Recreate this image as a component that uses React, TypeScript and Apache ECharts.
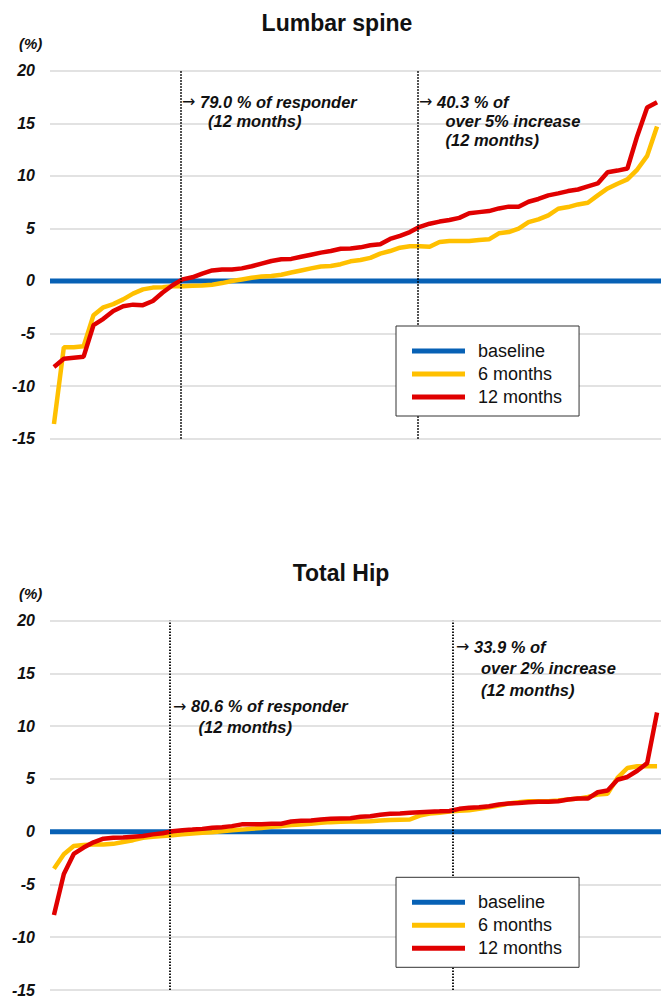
import React, { useEffect, useRef } from "react";
import * as echarts from "echarts";

// ---- data (sorted change in BMD per patient, %) ----
const lumbar6m = [
  -13.6, -6.3, -6.3, -6.2, -3.25, -2.5, -2.2, -1.75, -1.2, -0.8,
  -0.63, -0.6, -0.5, -0.5, -0.45, -0.42, -0.35, -0.2, 0.0, 0.15,
  0.3, 0.42, 0.48, 0.6, 0.8, 1.0, 1.2, 1.37, 1.43, 1.6,
  1.87, 2.0, 2.2, 2.6, 2.85, 3.17, 3.3, 3.3, 3.25, 3.7,
  3.8, 3.8, 3.8, 3.9, 3.96, 4.53, 4.65, 4.98, 5.6, 5.86,
  6.24, 6.87, 7.03, 7.28, 7.44, 8.14, 8.8, 9.25, 9.66, 10.6,
  11.9, 14.7,
];
const lumbar12m = [
  -8.17, -7.4, -7.3, -7.2, -4.2, -3.6, -2.85, -2.4, -2.25, -2.3,
  -1.9, -1.1, -0.4, 0.15, 0.35, 0.7, 1.0, 1.1, 1.1, 1.2,
  1.4, 1.65, 1.9, 2.06, 2.1, 2.3, 2.5, 2.7, 2.85, 3.07,
  3.1, 3.2, 3.4, 3.5, 4.0, 4.3, 4.65, 5.15, 5.45, 5.65,
  5.8, 6.0, 6.45, 6.55, 6.65, 6.9, 7.07, 7.07, 7.54, 7.8,
  8.14, 8.33, 8.55, 8.7, 9.0, 9.28, 10.35, 10.5, 10.7, 13.8,
  16.5, 17.0,
];
const hip6m = [
  -3.5, -2.14, -1.36, -1.25, -1.22, -1.2, -1.15, -0.98, -0.8, -0.57,
  -0.47, -0.4, -0.33, -0.25, -0.16, -0.1, -0.04, 0.05, 0.15, 0.2,
  0.28, 0.36, 0.47, 0.53, 0.63, 0.69, 0.75, 0.85, 0.91, 0.94,
  0.97, 0.97, 1.0, 1.06, 1.12, 1.14, 1.16, 1.53, 1.73, 1.79,
  1.92, 1.98, 2.04, 2.17, 2.32, 2.48, 2.67, 2.8, 2.89, 2.89,
  2.89, 2.95, 3.05, 3.14, 3.3, 3.52, 3.61, 5.1, 6.04, 6.2,
  6.2, 6.2,
];
const hip12m = [
  -7.9, -4.0, -2.1, -1.5, -1.0, -0.66, -0.57, -0.55, -0.47, -0.4,
  -0.25, -0.15, 0.05, 0.15, 0.2, 0.27, 0.37, 0.43, 0.53, 0.7,
  0.72, 0.72, 0.75, 0.75, 0.97, 1.04, 1.07, 1.16, 1.22, 1.25,
  1.28, 1.41, 1.47, 1.6, 1.7, 1.73, 1.79, 1.85, 1.9, 1.93,
  1.97, 2.17, 2.27, 2.32, 2.42, 2.58, 2.67, 2.73, 2.8, 2.83,
  2.83, 2.89, 3.05, 3.14, 3.14, 3.74, 3.9, 4.93, 5.19, 5.78,
  6.5, 11.3,
];
const baselineValue = 0;
const seriesNames = ["baseline", "6 months", "12 months"];
const yTicks = { min: -15, max: 20, interval: 5 };
// cut-off positions of the dotted lines (patient rank)
const lumbarCutoffs = [12.8, 36.8];
const hipCutoffs = [11.7, 40.3];
const titles = ["Lumbar spine", "Total Hip"];
const lumbarNotes = [
  ["{a|→} 79.0 % of responder", "(12 months)"],
  ["{a|→} 40.3 % of", "over 5% increase", "(12 months)"],
];
const hipNotes = [
  ["{a|→} 80.6 % of responder", "(12 months)"],
  ["{a|→} 33.9 % of", "over 2% increase", "(12 months)"],
];

const BLUE = "#0761b5";
const GOLD = "#ffc000";
const RED = "#e00000";
const FONT = "'Liberation Sans', Arial, Helvetica, sans-serif";
const X_MIN = -0.4;
const X_MAX = 61.4;

function pairs(arr: number[]) {
  return arr.map((v, i) => [i, v]);
}

export default function App() {
  const ref = useRef<HTMLDivElement>(null);
  useEffect(() => {
    if (!ref.current) return;
    const chart = echarts.init(ref.current, undefined, { renderer: "svg" });

    const grids = [
      { left: 50, right: 1, top: 70.7, height: 368 },
      { left: 50, right: 1, top: 620.7, height: 371 },
    ];
    const xAxes = grids.map((_, i) => ({
      type: "value",
      gridIndex: i,
      min: X_MIN,
      max: X_MAX,
      show: false,
    }));
    const yAxes = grids.map((_, i) => ({
      type: "value",
      gridIndex: i,
      min: yTicks.min,
      max: yTicks.max,
      interval: yTicks.interval,
      axisLine: { show: false },
      axisTick: { show: false },
      splitLine: { lineStyle: { color: "#d9d9d9", width: 1.5 } },
      axisLabel: {
        fontSize: 16,
        fontWeight: "bold",
        fontStyle: "italic",
        color: "#111",
        fontFamily: FONT,
        margin: 15,
      },
    }));

    const datasets = [
      { six: lumbar6m, twelve: lumbar12m, cut: lumbarCutoffs },
      { six: hip6m, twelve: hip12m, cut: hipCutoffs },
    ];
    const series: any[] = [];
    datasets.forEach((d, g) => {
      series.push({
        name: seriesNames[0],
        type: "line",
        xAxisIndex: g,
        yAxisIndex: g,
        data: [
          [X_MIN, baselineValue],
          [X_MAX, baselineValue],
        ],
        showSymbol: false,
        itemStyle: { color: BLUE },
        lineStyle: { color: BLUE, width: 5 },
        z: 2,
      });
      series.push({
        name: seriesNames[1],
        type: "line",
        xAxisIndex: g,
        yAxisIndex: g,
        data: pairs(d.six),
        showSymbol: false,
        itemStyle: { color: GOLD },
        lineStyle: { color: GOLD, width: 4.5 },
        z: 3,
      });
      series.push({
        name: seriesNames[2],
        type: "line",
        xAxisIndex: g,
        yAxisIndex: g,
        data: pairs(d.twelve),
        showSymbol: false,
        itemStyle: { color: RED },
        lineStyle: { color: RED, width: 4.5 },
        z: 4,
        markLine: {
          silent: true,
          symbol: ["none", "none"],
          label: { show: false },
          z: 10,
          lineStyle: { type: [1.5, 1.5], color: "#000", width: 1.8 },
          data: d.cut.map((c) => ({ xAxis: c })),
        },
      });
    });

    const legendBase = {
      orient: "vertical",
      left: 396,
      data: seriesNames,
      icon: "rect",
      itemWidth: 53,
      itemHeight: 5,
      itemGap: 5,
      padding: [16, 17, 10, 16],
      borderColor: "#333",
      borderWidth: 1,
      backgroundColor: "#fff",
      selectedMode: false,
      z: 20,
      textStyle: {
        fontSize: 18,
        color: "#111",
        fontFamily: FONT,
        padding: [0, 0, 0, 8],
      },
    };

    const note = (text: string, x: number, y: number) => ({
      type: "text",
      x,
      y,
      z: 30,
      style: {
        text,
        fill: "#111",
        fontSize: 16.5,
        fontWeight: "bold",
        fontStyle: "italic",
        fontFamily: FONT,
        align: "left",
        verticalAlign: "middle",
        rich: {
          a: {
            fontSize: 16,
            fontWeight: "normal",
            fontStyle: "normal",
            fontFamily: "'DejaVu Sans', sans-serif",
            fill: "#111",
          },
        },
      },
    });
    const title = (text: string, x: number, y: number) => ({
      type: "text",
      x,
      y,
      style: {
        text,
        fill: "#111",
        fontSize: 23,
        fontWeight: "bold",
        fontFamily: FONT,
        align: "center",
        verticalAlign: "middle",
      },
    });
    const unit = (y: number) => ({
      type: "text",
      x: 19,
      y,
      style: {
        text: "(%)",
        fill: "#111",
        fontSize: 15,
        fontWeight: "bold",
        fontStyle: "italic",
        fontFamily: FONT,
        align: "left",
        verticalAlign: "middle",
      },
    });

    const graphic = [
      title(titles[0], 337, 23),
      title(titles[1], 341, 573),
      unit(43),
      unit(593),
      note(lumbarNotes[0][0], 182, 101.7),
      note(lumbarNotes[0][1], 208, 120.5),
      note(lumbarNotes[1][0], 419, 101.7),
      note(lumbarNotes[1][1], 445.5, 120.5),
      note(lumbarNotes[1][2], 445.5, 139.5),
      note(hipNotes[0][0], 173, 706),
      note(hipNotes[0][1], 198.5, 726.7),
      note(hipNotes[1][0], 456, 646.7),
      note(hipNotes[1][1], 481, 668.3),
      note(hipNotes[1][2], 481, 690),
    ];

    chart.setOption({
      animation: false,
      backgroundColor: "#fff",
      grid: grids,
      xAxis: xAxes,
      yAxis: yAxes,
      legend: [
        { ...legendBase, top: 326 },
        { ...legendBase, top: 877.3 },
      ],
      series,
      graphic,
    });
    return () => chart.dispose();
  }, []);

  return (
    <div
      ref={ref}
      style={{ position: "absolute", left: 0, top: 0, width: 662, height: 998 }}
    />
  );
}
